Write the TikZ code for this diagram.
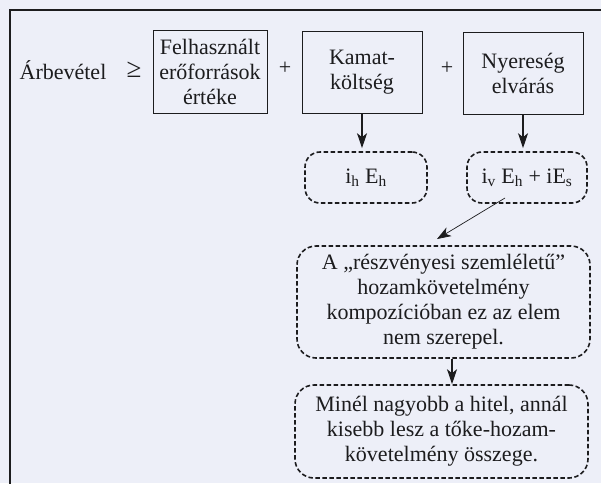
\documentclass[tikz,border=0pt]{standalone}
\usepackage{fontspec}
\setmainfont{Liberation Serif}
\usetikzlibrary{arrows.meta,calc}
\definecolor{paper}{RGB}{237,239,248}
\definecolor{ink}{RGB}{28,28,30}
\begin{document}
\begin{tikzpicture}[x=1pt,y=-1pt,
  every node/.style={text=ink,font=\fontsize{22}{25}\selectfont,align=center,inner sep=0pt},
  solidbox/.style={draw=ink,line width=1pt},
  dashbox/.style={draw=ink,line width=1.6pt,dash pattern=on 4.5pt off 2.5pt,rounded corners=#1},
  dashbox/.default=15pt,
  bigarrow/.style={draw=ink,line width=1.1pt,-{Stealth[length=15pt,width=10pt,inset=4pt]}},
  thinarrow/.style={draw=ink,line width=0.7pt,-{Stealth[length=14pt,width=10pt,inset=4pt]}}]
% page and frame
\fill[paper] (0,0) rectangle (601,483);
\useasboundingbox (0,0) rectangle (601,483);
\begin{scope}
\clip (0,0) rectangle (601,483);
\draw[ink,line width=1.8pt] (10,500) -- (10,10) -- (620,10);
\end{scope}

% top row: the inequality
\node (rev) at (63,70) {Árbevétel};
\node[font=\fontsize{27}{27}\selectfont] (geq) at (134,70) {≥};
\node[solidbox,minimum width=114pt,minimum height=83pt] (res) at (210,71.5)
  {Felhasznált\\erőforrások\\értéke};
\node (p1) at (285,68) {+};
\node[solidbox,minimum width=120pt,minimum height=82pt] (int) at (362,72)
  {Kamat-\\költség};
\node (p2) at (447,68) {+};
\node[solidbox,minimum width=120pt,minimum height=82pt] (prof) at (523,73)
  {Nyereség\\elvárás};

% expressions
\node[dashbox,minimum width=122pt,minimum height=51pt] (ih) at (366,177.5)
  {i\textsubscript{h} E\textsubscript{h}};
\node[dashbox,minimum width=120pt,minimum height=51pt] (iv) at (527,177.5)
  {i\textsubscript{v} E\textsubscript{h} + iE\textsubscript{s}};

% comments
\node[dashbox=19pt,minimum width=293pt,minimum height=112pt] (note) at (443.5,302)
  {A „részvényesi szemléletű”\\hozamkövetelmény\\kompozícióban ez az elem\\nem szerepel.};
\node[dashbox=19pt,minimum width=293pt,minimum height=93pt] (loan) at (441.5,431.5)
  {Minél nagyobb a hitel, annál\\kisebb lesz a tőke-hozam-\\követelmény összege.};

% connectors
\draw[bigarrow,shorten >=3pt] (int.south) -- (int.south |- ih.north);
\draw[bigarrow,shorten >=3pt] (prof.south) -- (prof.south |- iv.north);
\coordinate (tail) at (505,198);
\coordinate (head) at (437,239);
\draw[thinarrow] (tail) -- (head);
\coordinate (ax) at (452,0);
\draw[bigarrow] (note.south -| ax) -- (loan.north -| ax);
\end{tikzpicture}
\end{document}
